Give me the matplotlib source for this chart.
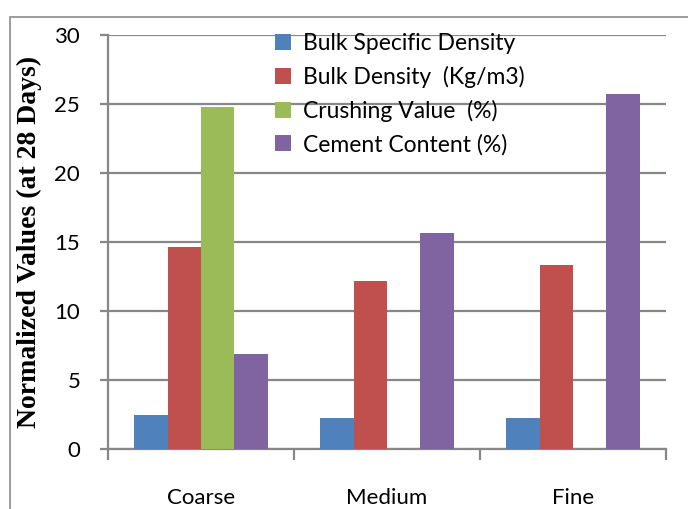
import matplotlib.pyplot as plt
import matplotlib.patches as mpatches
import numpy as np

categories = ['Coarse', 'Medium', 'Fine']
series_names = ['Bulk Specific Density', 'Bulk Density  (Kg/m3)',
                'Crushing Value  (%)', 'Cement Content (%)']
bulk_specific_density = [2.5, 2.25, 2.25]
bulk_density = [14.65, 12.2, 13.35]
crushing_value = [24.75, np.nan, np.nan]   # only measured for coarse
cement_content = [6.85, 15.65, 25.75]
yticks = [0, 5, 10, 15, 20, 25, 30]

colores = ['#4F81BD', '#C0504D', '#9BBB59', '#8064A2']
gris = '#878787'
fuente = 'Lato'

fig = plt.figure(figsize=(6.88, 5.09), dpi=100)
# marco exterior de la figura
fig.patches.append(mpatches.Rectangle((10/688, -0.1), 1.2, 1 - 17/509 + 0.1,
                                      transform=fig.transFigure, fill=False,
                                      edgecolor='#8c8c8c', linewidth=1.2))
ax = fig.add_axes([108/688, 1 - 449/509, 558/688, 414/509])

x = np.arange(len(categories))
w = 0.179
datos = [bulk_specific_density, bulk_density, crushing_value, cement_content]
for i, serie in enumerate(datos):
    ax.bar(x + (i - 1.5)*w, serie, width=w, color=colores[i],
           label=series_names[i], zorder=3)

ax.set_xlim(-0.5, 2.5)
ax.set_ylim(0, 30)
ax.set_yticks(yticks)
ax.set_yticklabels([str(v) for v in yticks], fontsize=16, family=fuente)
ax.yaxis.grid(True, color=gris, linewidth=1.6, zorder=0)
ax.set_axisbelow(True)

# etiquetas de categoria centradas, marcas en los limites
ax.set_xticks(x)
ax.set_xticklabels(categories, fontsize=16, family=fuente)
ax.tick_params(axis='x', which='major', length=0, pad=28)
ax.set_xticks([-0.5, 0.5, 1.5, 2.5], minor=True)
ax.tick_params(axis='x', which='minor', length=8, width=1.6, color=gris,
               direction='out')
ax.tick_params(axis='y', length=6, width=1.6, color=gris, pad=14)

for lado in ['top', 'right']:
    ax.spines[lado].set_visible(False)
for lado in ['left', 'bottom']:
    ax.spines[lado].set_color(gris)
    ax.spines[lado].set_linewidth(1.6)

ax.set_ylabel('Normalized Values (at 28 Days)', fontsize=20,
              fontweight='bold', family='Liberation Serif')
ax.yaxis.set_label_coords(-0.118, 0.5)

ax.legend(loc='upper left', bbox_to_anchor=(0.262, 1.055), frameon=False,
          prop={'family': fuente, 'size': 16.5}, handlelength=0.7,
          handleheight=0.7, handletextpad=0.55, labelspacing=0.52)

fig.savefig('out.png', dpi=100)
